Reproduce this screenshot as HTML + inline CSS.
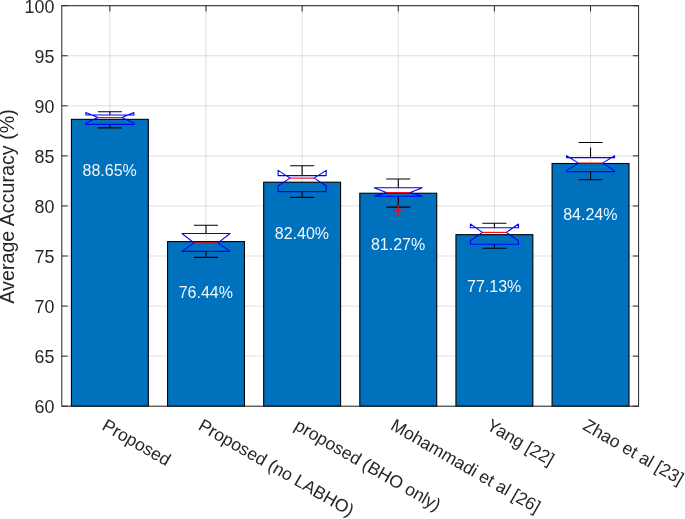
<!DOCTYPE html><html><head><meta charset="utf-8"><title>Average Accuracy</title>
<style>html,body{margin:0;padding:0;background:#fff}svg{display:block}text{font-family:"Liberation Sans",Arial,Helvetica,sans-serif}</style></head><body>
<svg width="685" height="519" viewBox="0 0 685 519">
<rect width="685" height="519" fill="#fff"/>
<g stroke="#262626" stroke-opacity="0.14" stroke-width="1" fill="none">
<line x1="109.87" y1="5.7" x2="109.87" y2="406.2"/>
<line x1="206.00" y1="5.7" x2="206.00" y2="406.2"/>
<line x1="302.13" y1="5.7" x2="302.13" y2="406.2"/>
<line x1="398.27" y1="5.7" x2="398.27" y2="406.2"/>
<line x1="494.40" y1="5.7" x2="494.40" y2="406.2"/>
<line x1="590.53" y1="5.7" x2="590.53" y2="406.2"/>
<line x1="61.8" y1="406.20" x2="638.6" y2="406.20"/>
<line x1="61.8" y1="356.14" x2="638.6" y2="356.14"/>
<line x1="61.8" y1="306.07" x2="638.6" y2="306.07"/>
<line x1="61.8" y1="256.01" x2="638.6" y2="256.01"/>
<line x1="61.8" y1="205.95" x2="638.6" y2="205.95"/>
<line x1="61.8" y1="155.89" x2="638.6" y2="155.89"/>
<line x1="61.8" y1="105.83" x2="638.6" y2="105.83"/>
<line x1="61.8" y1="55.76" x2="638.6" y2="55.76"/>
<line x1="61.8" y1="5.70" x2="638.6" y2="5.70"/>
</g>
<g fill="#0072bd" stroke="#000" stroke-width="1.1">
<rect x="71.41" y="119.34" width="76.91" height="286.86"/>
<rect x="167.55" y="241.59" width="76.91" height="164.61"/>
<rect x="263.68" y="182.22" width="76.91" height="223.98"/>
<rect x="359.81" y="193.23" width="76.91" height="212.97"/>
<rect x="455.95" y="234.69" width="76.91" height="171.51"/>
<rect x="552.08" y="163.50" width="76.91" height="242.70"/>
</g>
<g stroke="#262626" stroke-width="1" fill="none">
<rect x="61.8" y="5.7" width="576.8000000000001" height="400.5"/>
<line x1="109.87" y1="5.7" x2="109.87" y2="11.5"/>
<line x1="206.00" y1="5.7" x2="206.00" y2="11.5"/>
<line x1="302.13" y1="5.7" x2="302.13" y2="11.5"/>
<line x1="398.27" y1="5.7" x2="398.27" y2="11.5"/>
<line x1="494.40" y1="5.7" x2="494.40" y2="11.5"/>
<line x1="590.53" y1="5.7" x2="590.53" y2="11.5"/>
<line x1="61.8" y1="406.20" x2="67.6" y2="406.20"/>
<line x1="638.6" y1="406.20" x2="632.8000000000001" y2="406.20"/>
<line x1="61.8" y1="356.14" x2="67.6" y2="356.14"/>
<line x1="638.6" y1="356.14" x2="632.8000000000001" y2="356.14"/>
<line x1="61.8" y1="306.07" x2="67.6" y2="306.07"/>
<line x1="638.6" y1="306.07" x2="632.8000000000001" y2="306.07"/>
<line x1="61.8" y1="256.01" x2="67.6" y2="256.01"/>
<line x1="638.6" y1="256.01" x2="632.8000000000001" y2="256.01"/>
<line x1="61.8" y1="205.95" x2="67.6" y2="205.95"/>
<line x1="638.6" y1="205.95" x2="632.8000000000001" y2="205.95"/>
<line x1="61.8" y1="155.89" x2="67.6" y2="155.89"/>
<line x1="638.6" y1="155.89" x2="632.8000000000001" y2="155.89"/>
<line x1="61.8" y1="105.83" x2="67.6" y2="105.83"/>
<line x1="638.6" y1="105.83" x2="632.8000000000001" y2="105.83"/>
<line x1="61.8" y1="55.76" x2="67.6" y2="55.76"/>
<line x1="638.6" y1="55.76" x2="632.8000000000001" y2="55.76"/>
<line x1="61.8" y1="5.70" x2="67.6" y2="5.70"/>
<line x1="638.6" y1="5.70" x2="632.8000000000001" y2="5.70"/>
</g>
<g fill="none" stroke-width="1.1">
<path stroke="#000" stroke-dasharray="10 5" d="M109.87 115.0 V111.8"/>
<path stroke="#000" stroke-dasharray="10 5" d="M109.87 124.4 V127.9"/>
<path stroke="#000" d="M97.85 111.8 H121.88 M97.85 127.9 H121.88"/>
<path stroke="#0000ff" stroke-linejoin="round" d="M85.83 124.4 L85.83 123.0 L97.85 117.6 L85.83 112.6 L85.83 115.0 L133.90 115.0 L133.90 112.6 L121.88 117.6 L133.90 123.0 L133.90 124.4 Z"/>
<path stroke="#ff0000" d="M97.85 117.6 H121.88"/>
</g>
<g fill="none" stroke-width="1.1">
<path stroke="#000" stroke-dasharray="10 5" d="M206.00 233.5 V225.2"/>
<path stroke="#000" stroke-dasharray="10 5" d="M206.00 251.4 V257.4"/>
<path stroke="#000" d="M193.98 225.2 H218.02 M193.98 257.4 H218.02"/>
<path stroke="#0000ff" stroke-linejoin="round" d="M181.97 251.4 L181.97 251.4 L193.98 242.9 L181.97 233.5 L181.97 233.5 L230.03 233.5 L230.03 233.5 L218.02 242.9 L230.03 251.4 L230.03 251.4 Z"/>
<path stroke="#ff0000" d="M193.98 242.9 H218.02"/>
</g>
<g fill="none" stroke-width="1.1">
<path stroke="#000" stroke-dasharray="10 5" d="M302.13 175.6 V165.8"/>
<path stroke="#000" stroke-dasharray="10 5" d="M302.13 191.6 V197.4"/>
<path stroke="#000" d="M290.12 165.8 H314.15 M290.12 197.4 H314.15"/>
<path stroke="#0000ff" stroke-linejoin="round" d="M278.10 191.6 L278.10 185.8 L290.12 178.1 L278.10 170.4 L278.10 175.6 L326.17 175.6 L326.17 170.4 L314.15 178.1 L326.17 185.8 L326.17 191.6 Z"/>
<path stroke="#ff0000" d="M290.12 178.1 H314.15"/>
</g>
<g fill="none" stroke-width="1.1">
<path stroke="#000" stroke-dasharray="10 5" d="M398.27 187.8 V179.0"/>
<path stroke="#000" stroke-dasharray="10 5" d="M398.27 196.2 V207.1"/>
<path stroke="#000" d="M386.25 179.0 H410.28 M386.25 207.1 H410.28"/>
<path stroke="#0000ff" stroke-linejoin="round" d="M374.23 196.2 L374.23 196.2 L386.25 192.6 L374.23 187.8 L374.23 187.8 L422.30 187.8 L422.30 187.8 L410.28 192.6 L422.30 196.2 L422.30 196.2 Z"/>
<path stroke="#ff0000" d="M386.25 192.6 H410.28"/>
</g>
<g fill="none" stroke-width="1.1">
<path stroke="#000" stroke-dasharray="10 5" d="M494.40 227.8 V223.2"/>
<path stroke="#000" stroke-dasharray="10 5" d="M494.40 244.2 V248.3"/>
<path stroke="#000" d="M482.38 223.2 H506.42 M482.38 248.3 H506.42"/>
<path stroke="#0000ff" stroke-linejoin="round" d="M470.37 244.2 L470.37 240.8 L482.38 232.4 L470.37 224.0 L470.37 227.8 L518.43 227.8 L518.43 224.0 L506.42 232.4 L518.43 240.8 L518.43 244.2 Z"/>
<path stroke="#ff0000" d="M482.38 232.4 H506.42"/>
</g>
<g fill="none" stroke-width="1.1">
<path stroke="#000" stroke-dasharray="10 5" d="M590.53 157.6 V142.5"/>
<path stroke="#000" stroke-dasharray="10 5" d="M590.53 171.6 V179.8"/>
<path stroke="#000" d="M578.52 142.5 H602.55 M578.52 179.8 H602.55"/>
<path stroke="#0000ff" stroke-linejoin="round" d="M566.50 171.6 L566.50 170.6 L578.52 163.1 L566.50 155.7 L566.50 157.6 L614.57 157.6 L614.57 155.7 L602.55 163.1 L614.57 170.6 L614.57 171.6 Z"/>
<path stroke="#ff0000" d="M578.52 163.1 H602.55"/>
</g>
<path stroke="#ff0000" stroke-width="1.1" fill="none" d="M392.87 210.3 H403.67 M398.27 204.9 V215.70000000000002"/>
<g fill="#fff" fill-opacity="0.94" font-size="16" text-anchor="middle">
<text x="109.67" y="176.20">88.65%</text>
<text x="205.80" y="298.46">76.44%</text>
<text x="301.93" y="238.78">82.40%</text>
<text x="398.07" y="250.10">81.27%</text>
<text x="494.20" y="291.55">77.13%</text>
<text x="590.33" y="220.36">84.24%</text>
</g>
<g fill="#262626" font-size="17.85" text-anchor="end">
<text x="54.4" y="413.40">60</text>
<text x="54.4" y="363.34">65</text>
<text x="54.4" y="313.27">70</text>
<text x="54.4" y="263.21">75</text>
<text x="54.4" y="213.15">80</text>
<text x="54.4" y="163.09">85</text>
<text x="54.4" y="113.03">90</text>
<text x="54.4" y="62.96">95</text>
<text x="54.4" y="12.90">100</text>
</g>
<text fill="#262626" font-size="19.7" text-anchor="middle" transform="translate(14.4 206.45) rotate(-90)">Average Accuracy (%)</text>
<g fill="#262626" font-size="17.6">
<text transform="translate(109.07 415) rotate(30)" x="0" y="16.0">Proposed</text>
<text transform="translate(205.20 415) rotate(30)" x="0" y="16.0">Proposed (no LABHO)</text>
<text transform="translate(301.33 415) rotate(30)" x="0" y="16.0">proposed (BHO only)</text>
<text transform="translate(397.47 415) rotate(30)" x="0" y="16.0">Mohammadi et al [26]</text>
<text transform="translate(493.60 415) rotate(30)" x="0" y="16.0">Yang [22]</text>
<text transform="translate(589.73 415) rotate(30)" x="0" y="16.0">Zhao et al [23]</text>
</g>
</svg></body></html>
